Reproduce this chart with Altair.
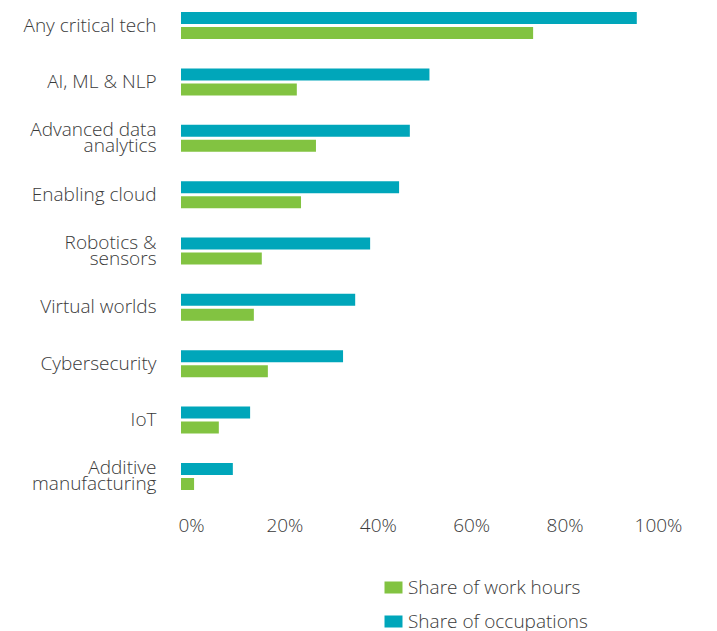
import altair as alt
import pandas as pd

categories = ["Any critical tech", "AI, ML & NLP", "Advanced data|analytics", "Enabling cloud",
              "Robotics &|sensors", "Virtual worlds", "Cybersecurity", "IoT", "Additive|manufacturing"]
share_occupations = [97.6, 53.2, 49.0, 46.7, 40.5, 37.3, 34.7, 14.8, 11.1]
share_work_hours = [75.4, 24.8, 28.9, 25.7, 17.3, 15.6, 18.6, 8.1, 2.8]
series = ["Share of work hours", "Share of occupations"]
colors = ["#82c341", "#00a6ba"]
x_ticks = [0, 20, 40, 60, 80, 100]

rows = []
for c, o, w in zip(categories, share_occupations, share_work_hours):
    rows.append({"category": c, "series": series[1], "value": o})
    rows.append({"category": c, "series": series[0], "value": w})
df = pd.DataFrame(rows)

FONT = "Open Sans"
TXT = "#3a3a3a"

chart = alt.Chart(df).mark_bar().encode(
    x=alt.X("value:Q",
            scale=alt.Scale(domain=[0, 100], nice=False, zero=True),
            axis=alt.Axis(values=x_ticks, labelExpr="datum.value + '%'", title=None,
                          grid=False, domain=False, ticks=False, labelPadding=14,
                          labelOffset=10, labelFlush=False, labelFontSize=19, labelFont=FONT,
                          labelColor=TXT, labelFontWeight=300)),
    y=alt.Y("category:N", sort=categories,
            scale=alt.Scale(paddingInner=0.521, paddingOuter=0.213),
            axis=alt.Axis(title=None, domain=False, ticks=False, labelPadding=25,
                          labelExpr="split(datum.value, '|')", labelFontSize=19,
                          labelFont=FONT, labelColor=TXT, labelFontWeight=300,
                          labelOffset={"condition": {"test": "indexof(datum.value, '|') >= 0", "value": -8}, "value": 0},
                          labelLineHeight=16, labelLimit=300)),
    yOffset=alt.YOffset("series:N", sort=[series[1], series[0]],
                        scale=alt.Scale(paddingInner=0.2, paddingOuter=0)),
    color=alt.Color("series:N",
                    scale=alt.Scale(domain=series, range=colors),
                    legend=alt.Legend(title=None, orient="none", legendX=203, legendY=578,
                                      direction="vertical",
                                      symbolType="M-1,-0.667H1V0.667H-1Z", symbolSize=324,
                                      symbolStrokeWidth=0, symbolOpacity=1,
                                      labelFontSize=19, labelFont=FONT, labelColor=TXT,
                                      labelFontWeight=300, rowPadding=14, labelOffset=5,
                                      labelLimit=400, padding=0)),
).properties(
    width=467, height=502,
    autosize=alt.AutoSizeParams(type="none"),
    padding={"left": 181, "top": 0, "right": 69, "bottom": 129},
).configure(background="white").configure_view(strokeWidth=0, stroke=None)

chart.save("out.html", embed_options={"renderer": "svg", "actions": False})
